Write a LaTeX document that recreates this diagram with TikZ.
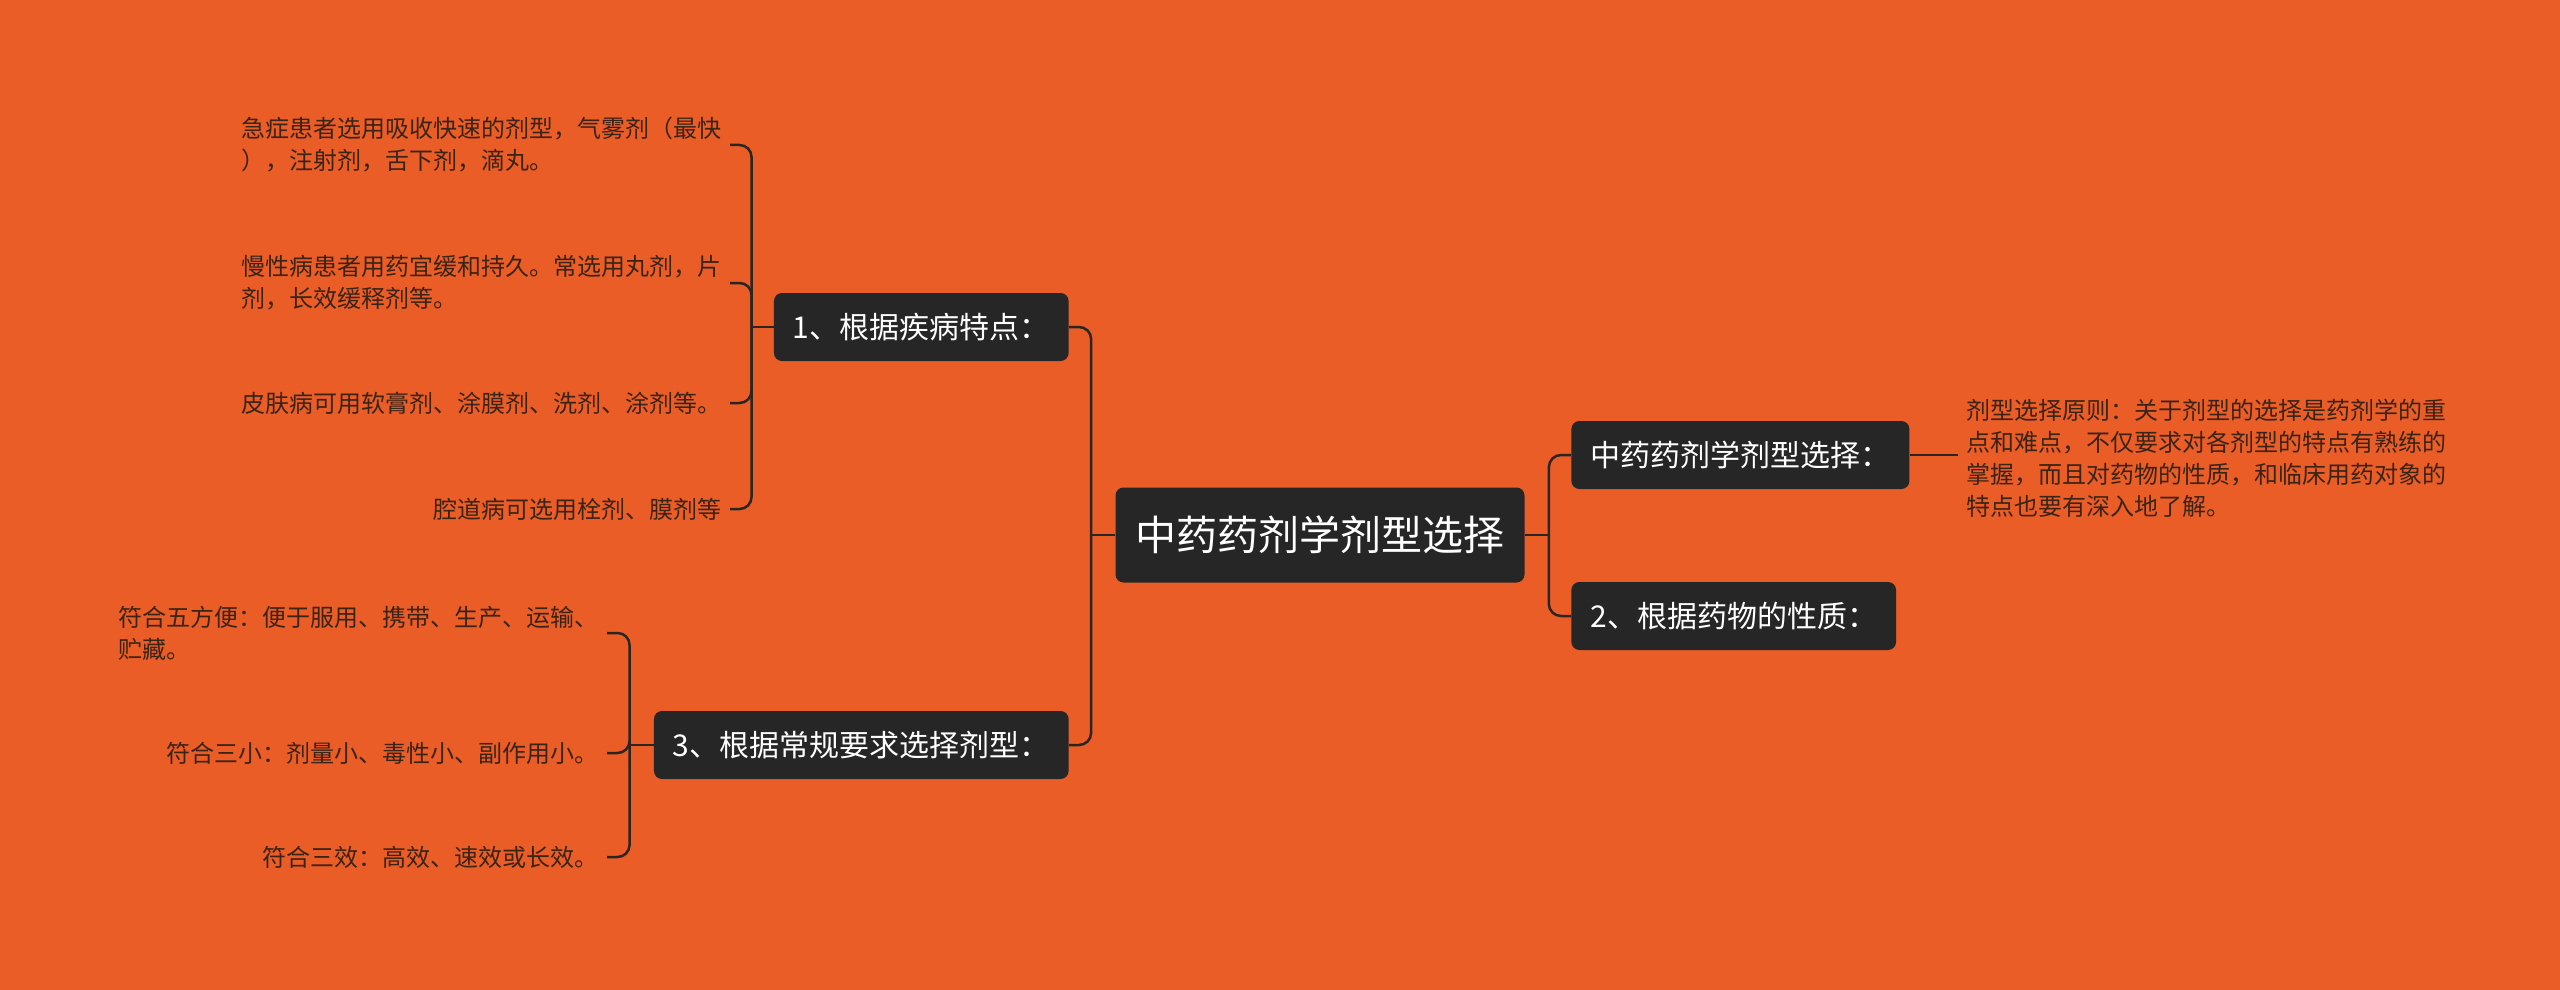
\documentclass[tikz,border=0pt]{standalone}
\usepackage{fontspec}
\setmainfont{Noto Sans CJK SC}
\usetikzlibrary{positioning}

\definecolor{bgorange}{HTML}{EA5D27}
\definecolor{boxgray}{HTML}{262626}
\definecolor{linegray}{HTML}{2B2522}
\definecolor{leaftext}{HTML}{3A2317}

\begin{document}
\begin{tikzpicture}[x=0.5pt,y=-0.5pt,
    topic/.style={fill=boxgray,text=white,rounded corners=4pt,
        inner xsep=10pt,minimum height=47.5pt,
        font=\fontsize{20.5pt}{24pt}\selectfont},
    branch/.style={fill=boxgray,text=white,rounded corners=4pt,
        inner xsep=9.5pt,minimum height=34pt,
        font=\fontsize{15pt}{18pt}\selectfont},
    leaf/.style={text=leaftext,align=left,inner xsep=4pt,inner ysep=2pt,
        font=\fontsize{12pt}{16pt}\selectfont},
    link/.style={draw=linegray,line width=1.25pt,rounded corners=6pt}]

% Background
\fill[bgorange] (0,0) rectangle (2560,990);
\useasboundingbox (0,0) rectangle (2560,990);

% Centre and branches
\node[topic] (root) at (1320,535) {中药药剂学剂型选择};

\node[branch,anchor=east] (rule1) at (1069,327) {1、根据疾病特点：};
\node[branch,anchor=east] (rule3) at (1069,745) {3、根据常规要求选择剂型：};
\node[branch,anchor=west] (pick) at (1571,455) {中药药剂学剂型选择：};
\node[branch,anchor=west] (rule2) at (1571,616) {2、根据药物的性质：};

% Leaves of rule 1
\node[leaf,anchor=east] (acute) at (730,145)
    {急症患者选用吸收快速的剂型，气雾剂（最快\\），注射剂，舌下剂，滴丸。};
\node[leaf,anchor=east] (chronic) at (730,283)
    {慢性病患者用药宜缓和持久。常选用丸剂，片\\剂，长效缓释剂等。};
\node[leaf,anchor=east] (skin) at (730,403)
    {皮肤病可用软膏剂、涂膜剂、洗剂、涂剂等。};
\node[leaf,anchor=east] (cavity) at (730,509)
    {腔道病可选用栓剂、膜剂等};

% Leaves of rule 3
\node[leaf,anchor=east] (five) at (607,633)
    {符合五方便：便于服用、携带、生产、运输、\\贮藏。};
\node[leaf,anchor=east] (small) at (607,753)
    {符合三小：剂量小、毒性小、副作用小。};
\node[leaf,anchor=east] (effect) at (607,857)
    {符合三效：高效、速效或长效。};

% Leaf of the right branch
\node[leaf,anchor=west] (principle) at (1958,458)
    {剂型选择原则：关于剂型的选择是药剂学的重\\点和难点，不仅要求对各剂型的特点有熟练的\\掌握，而且对药物的性质，和临床用药对象的\\特点也要有深入地了解。};

% Junctions
\coordinate (rootL) at ([xshift=-12pt]root.west);
\coordinate (rootR) at ([xshift=12pt]root.east);
\coordinate (rule1J) at ([xshift=-11pt]rule1.west);
\coordinate (rule3J) at ([xshift=-12pt]rule3.west);

% Connectors
\draw[link] (root.west) -- (rootL);
\draw[link] (root.east) -- (rootR);
\foreach \b in {rule1,rule3}{
    \draw[link] (rootL) |- (\b.east);
}
\foreach \b in {pick,rule2}{
    \draw[link] (rootR) |- (\b.west);
}

\draw[link] (rule1.west) -- (rule1J);
\foreach \l in {acute,chronic,skin,cavity}{
    \draw[link] (rule1J) |- (\l.east);
}

\draw[link] (rule3.west) -- (rule3J);
\foreach \l in {five,small,effect}{
    \draw[link] (rule3J) |- (\l.east);
}

\draw[link] (pick.east) -- (pick.east -| principle.west);

\end{tikzpicture}
\end{document}
